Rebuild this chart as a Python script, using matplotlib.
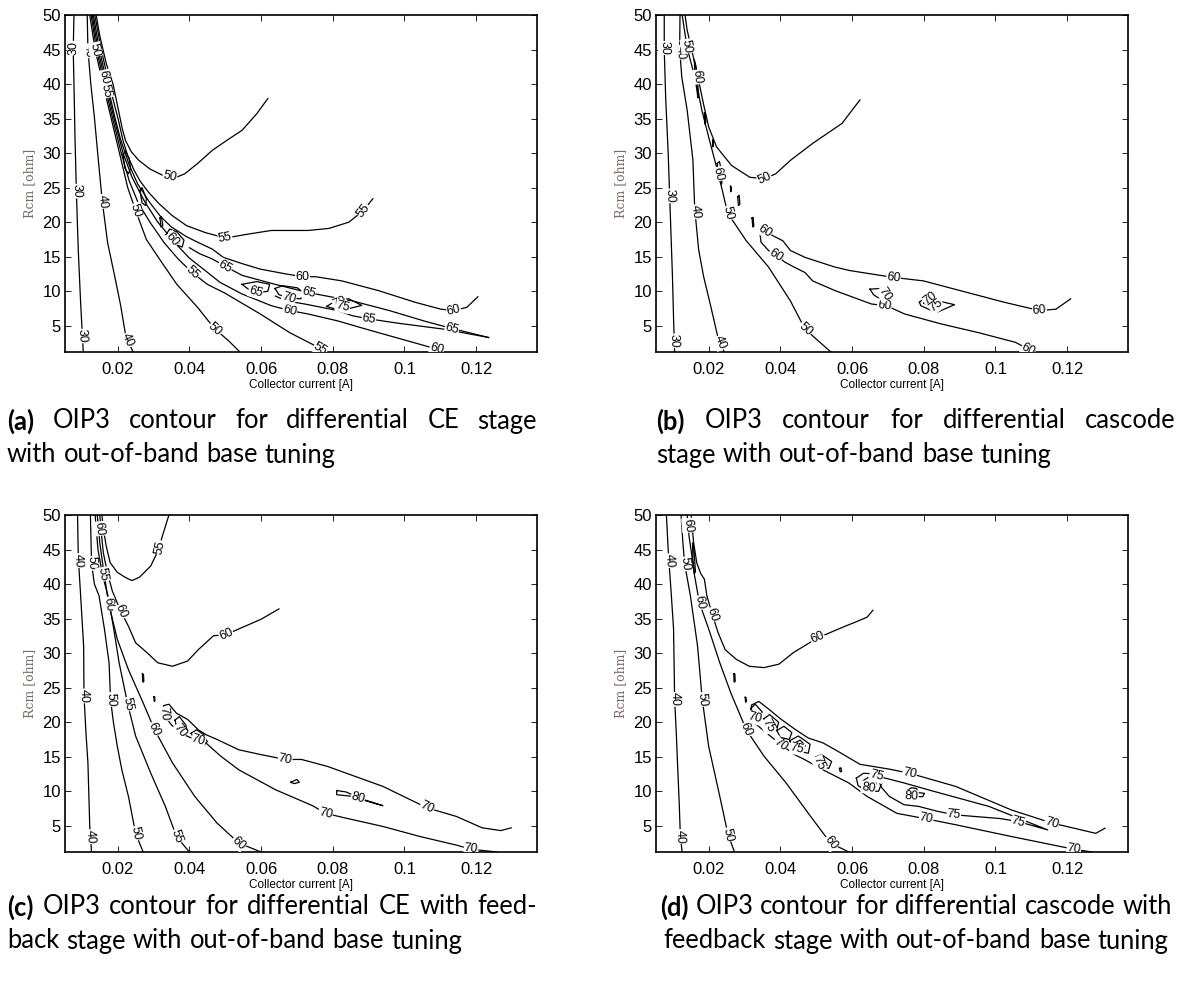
import matplotlib
matplotlib.use("Agg")
import matplotlib.pyplot as plt
import numpy as np

W, H = 1184, 986
fig = plt.figure(figsize=(W / 100, H / 100), dpi=100)

XLIM = (0.0053, 0.137)
YLIM = (1.2, 50)
XTICKS = [0.02, 0.04, 0.06, 0.08, 0.1, 0.12]
XTICKLABELS = ["0.02", "0.04", "0.06", "0.08", "0.1", "0.12"]
YTICKS = [5, 10, 15, 20, 25, 30, 35, 40, 45, 50]
XLABEL = "Collector current [A]"
YLABEL = "Rcm [ohm]"

# ---------------- panel (a) contour lines ----------------
A30_x = [0.0078, 0.0076, 0.0078, 0.0081, 0.0085, 0.0090, 0.0096, 0.0101, 0.0104]
A30_y = [50, 45, 40, 32, 24, 16, 9, 4, 1.2]
A40_x = [0.0115, 0.0117, 0.0125, 0.0135, 0.0146, 0.0157, 0.0172, 0.0192, 0.0208, 0.0223, 0.0243]
A40_y = [50, 45, 40, 35.2, 29, 23, 17, 12.1, 8, 3.4, 1.2]
A50L_x = [0.0122, 0.0137, 0.0159, 0.0182, 0.0205, 0.0228, 0.0250, 0.0280, 0.0320, 0.0365, 0.0423, 0.0470, 0.0510, 0.0541]
A50L_y = [50, 45, 40, 35, 30, 25, 21.7, 17.5, 14.4, 11, 7.66, 4.6, 2.8, 1.2]
A55L_x = [0.0126, 0.0141, 0.0163, 0.0186, 0.0210, 0.0232, 0.0258, 0.0290, 0.0330, 0.0370, 0.0408, 0.0450, 0.0500, 0.0598, 0.0680, 0.0742, 0.0780]
A55L_y = [50, 45, 40, 35, 30, 26, 22.7, 20, 17.0, 14.6, 12.7, 11.0, 9.7, 6.7, 4.0, 2.35, 1.2]
A60L_x = [0.0129, 0.0145, 0.0167, 0.0190, 0.0215, 0.0240, 0.0275, 0.0312, 0.0360, 0.0400, 0.0444, 0.0485, 0.0547, 0.0629, 0.0680, 0.0732, 0.0814, 0.0907, 0.1010, 0.1092, 0.1105]
A60L_y = [50, 45, 40, 35, 30, 26.5, 23, 20, 17, 14.8, 13.0, 11.3, 9.6, 7.9, 7.2, 6.7, 5.7, 4.3, 2.8, 1.6, 1.2]
A60U_x = [0.1205, 0.1174, 0.1138, 0.1102, 0.1030, 0.0927, 0.0825, 0.0753, 0.0716, 0.0670, 0.0598, 0.0547, 0.0495, 0.0464, 0.0423, 0.0392, 0.0350, 0.0320, 0.0290, 0.0256, 0.0232, 0.0208, 0.0193, 0.0171, 0.0149, 0.0132]
A60U_y = [9.2, 7.66, 7.2, 7.4, 8.4, 10.1, 11.5, 12.1, 12.1, 12.5, 13.2, 14.0, 14.9, 16.1, 17.1, 17.9, 19.3, 20.8, 22.8, 25.5, 28.3, 32, 35, 40, 45, 50]
A55U_x = [0.0912, 0.0886, 0.0845, 0.0790, 0.0732, 0.0629, 0.0567, 0.0500, 0.0444, 0.0392, 0.0351, 0.0315, 0.0285, 0.0262, 0.0246, 0.0228, 0.0215, 0.0201, 0.0176, 0.0154, 0.0136]
A55U_y = [23.4, 21.7, 20.0, 19.1, 18.8, 18.8, 18.3, 17.7, 18.5, 19.5, 21.0, 22.7, 24.4, 26.0, 27.5, 29.6, 31.8, 35, 40, 45, 50]
A50U_x = [0.0619, 0.0588, 0.0547, 0.0506, 0.0464, 0.0423, 0.0387, 0.0359, 0.0325, 0.0290, 0.0259, 0.0238, 0.0222, 0.0213, 0.0207, 0.0187, 0.0168, 0.0150, 0.0140]
A50U_y = [37.9, 35.7, 33.3, 31.9, 30.4, 28.5, 27.0, 26.4, 26.8, 27.7, 28.95, 30.2, 31.8, 33.5, 35, 40, 43, 47, 50]
A65U_x = [0.0400, 0.0430, 0.0463, 0.0500, 0.0547, 0.0639, 0.0732, 0.0855, 0.0958, 0.1061, 0.1133, 0.1235]
A65U_y = [16.3, 15.4, 14.7, 13.6, 12.3, 11.0, 9.8, 8.6, 7.2, 5.6, 4.6, 3.3]
A65L_x = [0.1235, 0.1111, 0.0978, 0.0901, 0.0855, 0.0814, 0.0722, 0.0670, 0.0640]
A65L_y = [3.3, 4.5, 5.4, 6.0, 6.45, 7.2, 8.15, 8.6, 9.3]
A70_x = [0.0639, 0.0660, 0.0701, 0.0716, 0.0711, 0.0680, 0.0650, 0.0639]
A70_y = [10.4, 10.8, 10.5, 9.9, 8.9, 9.0, 9.5, 10.4]
A70d_x = [0.0783, 0.0814, 0.0845, 0.0881, 0.0835, 0.0799, 0.0783]
A70d_y = [7.8, 8.8, 8.9, 7.95, 7.35, 7.55, 7.8]
A75d_x = [0.0804, 0.0827, 0.0850, 0.0833, 0.0804]
A75d_y = [8.1, 8.6, 8.2, 7.75, 8.1]
A65s_x = [0.0547, 0.0588, 0.0624, 0.0619, 0.0593, 0.0567, 0.0547]
A65s_y = [11.0, 11.4, 11.0, 10.0, 9.8, 10.2, 11.0]
A60i_x = [0.0335, 0.0345, 0.0365, 0.0385, 0.0380, 0.0360, 0.0340, 0.0335]
A60i_y = [18.2, 19.0, 18.6, 17.4, 16.4, 16.8, 17.5, 18.2]
A60j_x = [0.0215, 0.0222, 0.0232, 0.0236, 0.0230, 0.0220, 0.0215]
A60j_y = [29.8, 30.3, 29.2, 27.8, 27.0, 27.8, 29.8]
A60k_x = [0.0262, 0.0268, 0.0280, 0.0278, 0.0268, 0.0262]
A60k_y = [24.6, 25.0, 23.4, 22.4, 22.8, 24.6]
A60m_x = [0.0318, 0.0322, 0.0326, 0.0321, 0.0318]
A60m_y = [20.6, 20.8, 19.5, 19.3, 20.6]
A_lines = [(A30_x, A30_y), (A40_x, A40_y), (A50L_x, A50L_y), (A55L_x, A55L_y),
           (A60L_x, A60L_y), (A60U_x, A60U_y), (A55U_x, A55U_y), (A50U_x, A50U_y),
           (A65U_x, A65U_y), (A65L_x, A65L_y), (A70_x, A70_y), (A70d_x, A70d_y),
           (A75d_x, A75d_y), (A65s_x, A65s_y), (A60i_x, A60i_y), (A60j_x, A60j_y),
           (A60k_x, A60k_y), (A60m_x, A60m_y)]
A_lab_t = ["30", "30", "30", "40", "40", "40", "50", "50", "50", "50",
           "55", "55", "55", "55", "55", "60", "60", "60", "60", "60", "60",
           "65", "65", "65", "65", "65", "70", "70", "75"]
A_lab_x = [0.0077, 0.0084, 0.0101, 0.0117, 0.0157, 0.0224, 0.0138, 0.0250, 0.0472, 0.0345,
           0.0886, 0.0500, 0.0408, 0.0765, 0.0168, 0.1138, 0.0716, 0.0680, 0.1090, 0.0355, 0.0163,
           0.0500, 0.0588, 0.0732, 0.0901, 0.1133, 0.0680, 0.0818, 0.0830]
A_lab_y = [45.2, 24.5, 3.5, 44.8, 23.0, 2.8, 45.0, 21.7, 4.5, 26.5,
           21.7, 17.7, 12.7, 1.6, 39.0, 7.2, 12.1, 7.2, 1.6, 17.6, 41.0,
           13.6, 10.5, 9.8, 6.0, 4.6, 9.4, 8.6, 8.15]

# ---------------- panel (b) ----------------
B30_x = [0.0076, 0.0076, 0.0080, 0.0087, 0.0091, 0.0095, 0.0099, 0.0102, 0.0105]
B30_y = [50, 45, 38, 30, 24, 18, 12, 6, 1.2]
B40_x = [0.0120, 0.0119, 0.0125, 0.0140, 0.0156, 0.0161, 0.0172, 0.0186, 0.0205, 0.0225, 0.0243]
B40_y = [50, 45, 41, 36.2, 29, 22, 16, 12.1, 8, 3.5, 1.2]
B50L_x = [0.0126, 0.0140, 0.0166, 0.0181, 0.0202, 0.0222, 0.0238, 0.0253, 0.0305, 0.0367, 0.0428, 0.0469, 0.0541]
B50L_y = [50, 45.2, 40.1, 36.2, 31.9, 28.0, 24.6, 21.3, 17.3, 13.5, 8.6, 4.5, 1.2]
B50U_x = [0.0622, 0.0572, 0.0490, 0.0428, 0.0387, 0.0356, 0.0315, 0.0264, 0.0222, 0.0200, 0.0186, 0.0172, 0.0155, 0.0140, 0.0134]
B50U_y = [37.7, 34.3, 31.4, 28.95, 27.0, 26.3, 26.5, 28.2, 30.9, 33.8, 37.0, 40.5, 44.4, 47.8, 50]
B60_x = [0.1210, 0.1169, 0.1123, 0.1025, 0.0901, 0.0799, 0.0716, 0.0654, 0.0593, 0.0552, 0.0469, 0.0428, 0.0407, 0.0377, 0.0356, 0.0346, 0.0343, 0.0346, 0.0367, 0.0387, 0.0413, 0.0438, 0.0469, 0.0490, 0.0552, 0.0654, 0.0696, 0.0747, 0.0850, 0.0953, 0.1056, 0.1092, 0.1100]
B60_y = [8.9, 7.4, 7.2, 8.4, 10.1, 11.5, 12.0, 12.5, 13.0, 13.5, 14.9, 15.9, 17.3, 18.1, 18.8, 19.2, 18.4, 17.1, 15.9, 15.2, 14.2, 13.5, 12.7, 11.5, 10.1, 8.15, 7.9, 6.7, 5.25, 4.0, 2.6, 1.6, 1.2]
B60t_x = [0.0160, 0.0165, 0.0172, 0.0170, 0.0162, 0.0160]
B60t_y = [43.5, 42.5, 38.5, 38.0, 41.0, 43.5]
B60i_x = [0.0224, 0.0230, 0.0238, 0.0236, 0.0228, 0.0224]
B60i_y = [28.5, 28.8, 26.8, 25.5, 26.2, 28.5]
B60s1_x = [0.0188, 0.0191, 0.0192, 0.0189, 0.0188]
B60s1_y = [35.8, 35.6, 34.4, 34.2, 35.8]
B60s2_x = [0.0211, 0.0213, 0.0213, 0.0211, 0.0211]
B60s2_y = [31.9, 31.8, 31.0, 30.9, 31.9]
B60s3_x = [0.0261, 0.0263, 0.0263, 0.0261, 0.0261]
B60s3_y = [25.2, 25.1, 24.5, 24.4, 25.2]
B60s4_x = [0.0281, 0.0285, 0.0287, 0.0283, 0.0281]
B60s4_y = [23.7, 23.9, 22.6, 22.4, 23.7]
B60s5_x = [0.0321, 0.0324, 0.0326, 0.0323, 0.0321]
B60s5_y = [20.6, 20.7, 19.4, 19.3, 20.6]
B70_x = [0.0650, 0.0680, 0.0690, 0.0705, 0.0680, 0.0660, 0.0650]
B70_y = [10.3, 10.4, 9.6, 9.0, 8.8, 9.5, 10.3]
B70d_x = [0.0788, 0.0809, 0.0840, 0.0886, 0.0835, 0.0792, 0.0788]
B70d_y = [8.4, 9.35, 8.6, 8.05, 6.9, 7.9, 8.4]
B75d_x = [0.0800, 0.0818, 0.0845, 0.0825, 0.0800]
B75d_y = [8.3, 9.0, 8.3, 7.5, 8.3]
B_lines = [(B30_x, B30_y), (B40_x, B40_y), (B50L_x, B50L_y), (B50U_x, B50U_y),
           (B60_x, B60_y), (B60t_x, B60t_y), (B60i_x, B60i_y), (B60s1_x, B60s1_y),
           (B60s2_x, B60s2_y), (B60s3_x, B60s3_y), (B60s4_x, B60s4_y), (B60s5_x, B60s5_y),
           (B70_x, B70_y), (B70d_x, B70d_y), (B75d_x, B75d_y)]
B_lab_t = ["30", "30", "30", "40", "40", "40", "50", "50", "50", "50",
           "60", "60", "60", "60", "60", "60", "60", "60", "70", "70", "75"]
B_lab_x = [0.0076, 0.0091, 0.0103, 0.0119, 0.0162, 0.0231, 0.0141, 0.0253, 0.0470, 0.0356,
           0.0716, 0.1123, 0.0690, 0.1092, 0.0356, 0.0387, 0.0166, 0.0230, 0.0685, 0.0818, 0.0830]
B_lab_y = [45.2, 23.8, 2.8, 44.6, 21.5, 2.5, 45.5, 21.3, 4.5, 26.3,
           12.0, 7.2, 7.9, 1.6, 18.6, 15.2, 41.0, 27.0, 9.4, 8.9, 8.2]

# ---------------- panel (c) ----------------
C40_x = [0.0088, 0.0090, 0.0097, 0.0105, 0.0106, 0.0112, 0.0117, 0.0122, 0.0127]
C40_y = [50, 44, 38, 31, 23.8, 18, 14.1, 5, 1.2]
C50_x = [0.0124, 0.0127, 0.0135, 0.0148, 0.0163, 0.0176, 0.0180, 0.0188, 0.0199, 0.0212, 0.0230, 0.0250, 0.0271]
C50_y = [50, 43, 40, 38.3, 33.5, 28.6, 23.3, 20, 16.5, 13, 9.25, 3.9, 1.2]
C55_x = [0.0137, 0.0145, 0.0158, 0.0173, 0.0189, 0.0204, 0.0228, 0.0250, 0.0292, 0.0333, 0.0364, 0.0400]
C55_y = [50, 45, 41.2, 38.3, 33.5, 28.6, 22.6, 18.0, 12.65, 7.8, 3.45, 1.2]
C55U_x = [0.0343, 0.0322, 0.0317, 0.0292, 0.0261, 0.0240, 0.0220, 0.0199, 0.0179, 0.0168, 0.0160, 0.0156]
C55U_y = [50, 46.5, 45.3, 42.6, 41.0, 40.5, 41.0, 41.7, 43.1, 45.5, 48.0, 50]
C60L_x = [0.0143, 0.0150, 0.0160, 0.0175, 0.0199, 0.0230, 0.0271, 0.0302, 0.0353, 0.0415, 0.0477, 0.0538, 0.0600]
C60L_y = [50, 46, 42.2, 37.1, 32.0, 27.6, 22.8, 19.0, 14.1, 9.25, 5.4, 2.5, 1.2]
C60U_x = [0.0650, 0.0600, 0.0538, 0.0503, 0.0467, 0.0425, 0.0395, 0.0353, 0.0312, 0.0281, 0.0250, 0.0230, 0.0212, 0.0197, 0.0185, 0.0172, 0.0160, 0.0154, 0.0150]
C60U_y = [36.4, 34.9, 33.5, 32.7, 32.5, 30.5, 28.85, 28.1, 28.6, 30.1, 31.5, 33.9, 35.7, 37.5, 39.0, 41.5, 44.5, 47.5, 50]
C70_x = [0.1259, 0.1186, 0.1145, 0.1043, 0.0940, 0.0837, 0.0780, 0.0744, 0.0641, 0.0538, 0.0487, 0.0446, 0.0415, 0.0380, 0.0350, 0.0330, 0.0328, 0.0343, 0.0364, 0.0395, 0.0425, 0.0446, 0.0477, 0.0538, 0.0600, 0.0667, 0.0713, 0.0785, 0.0940, 0.1063, 0.1145, 0.1217, 0.1269, 0.1298]
C70_y = [1.2, 1.6, 2.2, 3.45, 4.9, 6.1, 6.8, 7.9, 10.2, 13.1, 15.1, 17.0, 17.5, 18.3, 19.6, 21.0, 22.4, 22.6, 21.3, 20.4, 18.9, 18.2, 17.5, 16.0, 15.3, 14.6, 14.6, 13.6, 10.7, 7.6, 6.35, 4.7, 4.3, 4.7]
C70a_x = [0.0360, 0.0372, 0.0390, 0.0395, 0.0380, 0.0365, 0.0360]
C70a_y = [20.3, 20.8, 19.6, 18.5, 18.2, 19.2, 20.3]
C70b_x = [0.0405, 0.0420, 0.0440, 0.0450, 0.0440, 0.0420, 0.0405]
C70b_y = [18.4, 18.9, 18.2, 17.2, 16.6, 17.0, 18.4]
C80_x = [0.0811, 0.0811, 0.0847, 0.0940, 0.0880, 0.0837, 0.0811]
C80_y = [10.1, 9.5, 9.3, 7.9, 8.9, 9.9, 10.1]
C80s_x = [0.0683, 0.0700, 0.0707, 0.0692, 0.0683]
C80s_y = [11.3, 11.7, 11.3, 11.1, 11.3]
C60s1_x = [0.0269, 0.0272, 0.0273, 0.0270, 0.0269]
C60s1_y = [27.0, 26.9, 25.9, 25.8, 27.0]
C60s2_x = [0.0301, 0.0303, 0.0304, 0.0302, 0.0301]
C60s2_y = [23.7, 23.7, 23.1, 23.0, 23.7]
C_lines = [(C40_x, C40_y), (C50_x, C50_y), (C55_x, C55_y), (C55U_x, C55U_y),
           (C60L_x, C60L_y), (C60U_x, C60U_y), (C70_x, C70_y), (C70a_x, C70a_y),
           (C70b_x, C70b_y), (C80_x, C80_y), (C80s_x, C80s_y), (C60s1_x, C60s1_y),
           (C60s2_x, C60s2_y)]
C_lab_t = ["40", "40", "40", "50", "50", "50", "55", "55", "55", "55",
           "60", "60", "60", "60", "60", "60",
           "70", "70", "70", "70", "70", "70", "70", "80"]
C_lab_x = [0.0091, 0.0106, 0.0122, 0.0127, 0.0180, 0.0250, 0.0158, 0.0228, 0.0364, 0.0317,
           0.0146, 0.0173, 0.0205, 0.0302, 0.0538, 0.0503,
           0.0667, 0.1063, 0.0780, 0.1186, 0.0335, 0.0380, 0.0425, 0.0870]
C_lab_y = [43.4, 23.8, 3.4, 43.0, 23.3, 3.9, 41.4, 22.6, 3.45, 45.3,
           48.0, 37.1, 35.9, 19.0, 2.5, 32.7,
           14.6, 7.6, 6.8, 1.6, 21.2, 19.0, 17.3, 9.0]

# ---------------- panel (d) ----------------
D40_x = [0.0082, 0.0088, 0.0095, 0.0102, 0.0105, 0.0110, 0.0113, 0.0118, 0.0121, 0.0126]
D40_y = [50, 44, 39, 33.5, 23.3, 18, 14.1, 8, 3.45, 1.2]
D50_x = [0.0123, 0.0128, 0.0133, 0.0149, 0.0169, 0.0182, 0.0200, 0.0231, 0.0254, 0.0272]
D50_y = [50, 46, 42.9, 38.3, 31.0, 23.3, 16.5, 9.25, 3.7, 1.2]
D60L_x = [0.0140, 0.0145, 0.0152, 0.0159, 0.0174, 0.0200, 0.0231, 0.0262, 0.0305, 0.0354, 0.0416, 0.0478, 0.0540, 0.0591]
D60L_y = [50, 47, 44.5, 41.7, 37.3, 33.5, 28.6, 24.2, 18.9, 15.1, 11.2, 6.8, 2.5, 1.2]
D60U_x = [0.0658, 0.0642, 0.0610, 0.0581, 0.0540, 0.0504, 0.0437, 0.0396, 0.0354, 0.0313, 0.0277, 0.0246, 0.0226, 0.0210, 0.0195, 0.0188, 0.0178, 0.0167, 0.0158, 0.0151]
D60U_y = [36.2, 35.2, 34.5, 33.9, 33.0, 32.2, 30.1, 28.4, 27.9, 28.1, 29.1, 30.5, 33.0, 35.6, 38.3, 40.7, 41.5, 43, 46, 50]
D60t_x = [0.0155, 0.0159, 0.0163, 0.0160, 0.0156, 0.0155]
D60t_y = [45.9, 45.0, 41.8, 41.5, 43.5, 45.9]
D70_x = [0.1270, 0.1219, 0.1044, 0.0889, 0.0807, 0.0725, 0.0642, 0.0591, 0.0519, 0.0467, 0.0440, 0.0400, 0.0360, 0.0330, 0.0315, 0.0320, 0.0340, 0.0365, 0.0400, 0.0440, 0.0478, 0.0519, 0.0570, 0.0622, 0.0704, 0.0761, 0.0889, 0.1044, 0.1157, 0.1219, 0.1280, 0.1306]
D70_y = [1.2, 1.6, 3.45, 5.15, 6.0, 6.8, 9.25, 11.2, 13.1, 14.6, 15.3, 16.8, 18.5, 19.8, 21.0, 22.5, 23.0, 22.0, 20.5, 19.0, 17.7, 17.0, 15.5, 13.9, 13.2, 12.6, 10.7, 7.3, 5.4, 4.65, 3.9, 4.65]
D75_x = [0.0668, 0.0700, 0.0745, 0.0827, 0.0982, 0.1146, 0.1064, 0.1013, 0.0941, 0.0884, 0.0838, 0.0786, 0.0745, 0.0704, 0.0683, 0.0668]
D75_y = [12.2, 11.8, 11.2, 10.0, 7.8, 4.4, 5.6, 6.05, 6.35, 6.6, 7.1, 7.8, 8.05, 9.25, 10.5, 12.2]
D80a_x = [0.0612, 0.0632, 0.0668, 0.0683, 0.0674, 0.0642, 0.0617, 0.0612]
D80a_y = [11.9, 12.6, 12.5, 11.2, 10.0, 10.0, 10.8, 11.9]
D80b_x = [0.0630, 0.0645, 0.0668, 0.0660, 0.0635, 0.0630]
D80b_y = [11.5, 12.0, 11.2, 10.4, 10.6, 11.5]
D80c_x = [0.0750, 0.0766, 0.0780, 0.0785, 0.0802, 0.0797, 0.0755, 0.0750]
D80c_y = [10.0, 10.5, 10.4, 9.8, 9.7, 9.2, 9.3, 10.0]
D75a_x = [0.0318, 0.0330, 0.0349, 0.0345, 0.0330, 0.0318]
D75a_y = [22.0, 22.6, 21.5, 20.4, 20.6, 22.0]
D75b_x = [0.0354, 0.0370, 0.0395, 0.0390, 0.0368, 0.0354]
D75b_y = [20.5, 21.1, 20.0, 18.9, 19.2, 20.5]
D75c_x = [0.0390, 0.0410, 0.0432, 0.0425, 0.0400, 0.0390]
D75c_y = [18.8, 19.4, 18.5, 17.5, 17.8, 18.8]
D75d_x = [0.0426, 0.0450, 0.0483, 0.0478, 0.0450, 0.0426]
D75d_y = [17.3, 18.0, 16.8, 15.5, 15.8, 17.3]
D80d_x = [0.0440, 0.0455, 0.0470, 0.0462, 0.0445, 0.0440]
D80d_y = [17.0, 17.4, 16.6, 16.0, 16.2, 17.0]
D75e_x = [0.0500, 0.0515, 0.0543, 0.0535, 0.0510, 0.0500]
D75e_y = [15.0, 15.3, 14.3, 13.3, 13.8, 15.0]
D70s1_x = [0.0270, 0.0273, 0.0274, 0.0271, 0.0270]
D70s1_y = [27.0, 27.0, 25.9, 25.8, 27.0]
D70s2_x = [0.0302, 0.0304, 0.0305, 0.0303, 0.0302]
D70s2_y = [23.6, 23.6, 23.0, 22.9, 23.6]
D75s3_x = [0.0565, 0.0569, 0.0571, 0.0567, 0.0565]
D75s3_y = [13.3, 13.4, 12.9, 12.8, 13.3]
D_lines = [(D40_x, D40_y), (D50_x, D50_y), (D60L_x, D60L_y), (D60U_x, D60U_y),
           (D60t_x, D60t_y), (D70_x, D70_y), (D75_x, D75_y), (D80a_x, D80a_y),
           (D80b_x, D80b_y), (D80c_x, D80c_y), (D75a_x, D75a_y), (D75b_x, D75b_y),
           (D75c_x, D75c_y), (D75d_x, D75d_y), (D80d_x, D80d_y), (D75e_x, D75e_y),
           (D70s1_x, D70s1_y), (D70s2_x, D70s2_y), (D75s3_x, D75s3_y)]
D_lab_t = ["40", "40", "40", "50", "50", "50", "60", "60", "60", "60", "60", "60",
           "70", "70", "70", "70", "70", "70", "75", "75", "75", "75", "75", "75", "80", "80"]
D_lab_x = [0.0092, 0.0105, 0.0121, 0.0133, 0.0182, 0.0254, 0.0143, 0.0174, 0.0210, 0.0504, 0.0305, 0.0540,
           0.0761, 0.1157, 0.0807, 0.1219, 0.0330, 0.0400, 0.0668, 0.0884, 0.1064, 0.0370, 0.0447, 0.0519, 0.0646, 0.0766]
D_lab_y = [43.4, 23.3, 3.45, 42.9, 23.3, 3.7, 48.5, 37.3, 35.6, 32.2, 18.9, 2.5,
           12.6, 5.4, 6.0, 1.6, 20.6, 16.8, 12.2, 6.6, 5.6, 19.6, 16.2, 14.3, 10.7, 9.7]

# ---------------- captions ----------------
CAP_A = [["(a)", "OIP3", "contour", "for", "differential", "CE", "stage"],
         ["with", "out-of-band", "base", "tuning"]]
CAP_B = [["(b)", "OIP3", "contour", "for", "differential", "cascode"],
         ["stage", "with", "out-of-band", "base", "tuning"]]
CAP_C = [["(c)", "OIP3", "contour", "for", "differential", "CE", "with", "feed-"],
         ["back", "stage", "with", "out-of-band", "base", "tuning"]]
CAP_D = [["(d)", "OIP3", "contour", "for", "differential", "cascode", "with"],
         ["feedback", "stage", "with", "out-of-band", "base", "tuning"]]

TICKFONT = "Liberation Sans"
CAPFONT = "Lato"


def style_axes(ax):
    ax.set_xlim(*XLIM)
    ax.set_ylim(*YLIM)
    ax.set_xticks(XTICKS)
    ax.set_xticklabels(XTICKLABELS, family=TICKFONT, fontsize=12)
    ax.set_yticks(YTICKS)
    ax.set_yticklabels([str(v) for v in YTICKS], family=TICKFONT, fontsize=12)
    ax.tick_params(axis="both", direction="in", top=True, right=True, length=4.5, width=0.6)
    ax.tick_params(axis="x", pad=7)
    ax.tick_params(axis="y", pad=3)
    for s in ax.spines.values():
        s.set_linewidth(1.2)
    ax.set_xlabel(XLABEL, family=TICKFONT, fontsize=8.5, labelpad=1.5)
    ax.set_ylabel(YLABEL, family="DejaVu Serif", fontsize=9, color="#7a6a66")
    ax.yaxis.set_label_coords(-29 / 472, 0.5)


def draw_panel(ax, lines, lab_t, lab_x, lab_y):
    style_axes(ax)
    for xs, ys in lines:
        ax.plot(xs, ys, color="black", lw=0.9, solid_joinstyle="round")
    T = ax.transData
    for txt, lx, ly in zip(lab_t, lab_x, lab_y):
        q = T.transform((lx, ly))
        best = None
        for xs, ys in lines:
            P = T.transform(np.column_stack([xs, ys]))
            for i in range(len(P) - 1):
                a, b = P[i], P[i + 1]
                ab = b - a
                L2 = float(np.dot(ab, ab))
                if L2 == 0:
                    continue
                t = np.clip(np.dot(q - a, ab) / L2, 0, 1)
                p = a + t * ab
                d = np.hypot(*(q - p))
                if best is None or d < best[0]:
                    best = (d, p, ab)
        d, p, ab = best
        ang = np.degrees(np.arctan2(ab[1], ab[0]))
        if ang > 90:
            ang -= 180
        if ang < -90:
            ang += 180
        pos = T.inverted().transform(p)
        ax.text(pos[0], pos[1], txt, rotation=ang, rotation_mode="anchor",
                ha="center", va="center", fontsize=9, family=TICKFONT,
                bbox=dict(fc="white", ec="none", pad=0.3), zorder=3, clip_on=True)


rects = [(65, 15, 537, 352), (656, 15, 1128, 352), (65, 515, 537, 852), (656, 515, 1128, 852)]
panels = [(A_lines, A_lab_t, A_lab_x, A_lab_y), (B_lines, B_lab_t, B_lab_x, B_lab_y),
          (C_lines, C_lab_t, C_lab_x, C_lab_y), (D_lines, D_lab_t, D_lab_x, D_lab_y)]
for (l, t, r, b), pdata in zip(rects, panels):
    ax = fig.add_axes([l / W, 1 - b / H, (r - l) / W, (b - t) / H])
    draw_panel(ax, *pdata)

renderer = fig.canvas.get_renderer()
CAP_FS = 18.4


def caption(lines, x0, x1, ys, modes):
    for li, (words, y, mode) in enumerate(zip(lines, ys, modes)):
        objs = []
        for k, w in enumerate(words):
            bold = (li == 0 and k == 0)
            objs.append(fig.text(0, 1 - y / H, w, fontsize=CAP_FS, family=CAPFONT,
                                 weight="bold" if bold else "normal", va="center", ha="left"))
        widths = [o.get_window_extent(renderer).width for o in objs]
        space = CAP_FS * 100 / 72 * 0.28
        if mode == "justify":
            gap = (x1 - x0 - sum(widths)) / (len(words) - 1)
            x = x0
        elif mode == "center":
            gap = space
            tot = sum(widths) + gap * (len(words) - 1)
            x = (x0 + x1 - tot) / 2
        else:
            gap = space
            x = x0
        for o, w in zip(objs, widths):
            o.set_x(x / W)
            x += w + gap


caption(CAP_A, 7, 537, [421, 455], ["justify", "left"])
caption(CAP_B, 656, 1176, [421, 455], ["justify", "left"])
caption(CAP_C, 7, 537, [907, 941], ["justify", "left"])
caption(CAP_D, 656, 1176, [907, 941], ["center", "center"])

fig.savefig("out.png", dpi=100)
